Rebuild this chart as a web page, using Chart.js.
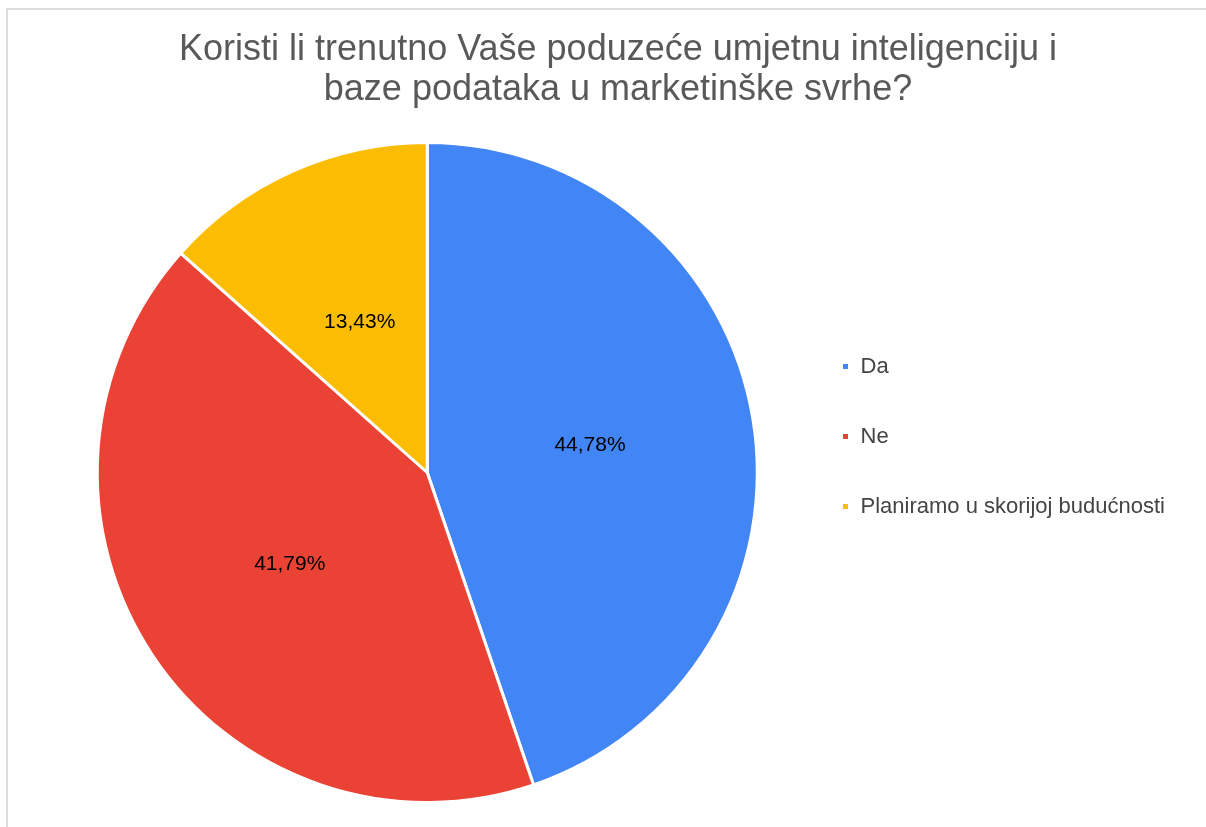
<!DOCTYPE html>
<html lang="hr">
<head>
    <meta charset="UTF-8">
    <title>Umjetna inteligencija u marketingu</title>
    <style>
        html, body { margin: 0; padding: 0; background: #fff; }
        #frame {
            position: absolute;
            left: 6px;
            top: 8px;
            width: 1300px;
            height: 900px;
            border-left: 2px solid #dcdcdc;
            border-top: 2px solid #dcdcdc;
        }
        #wrap {
            position: absolute;
            left: 0;
            top: 0;
            width: 1206px;
            height: 827px;
        }
    </style>
</head>
<body>
    <div id="frame"></div>
    <div id="wrap"><canvas id="pieChart"></canvas></div>

    <script src="https://cdn.jsdelivr.net/npm/chart.js@4/dist/chart.umd.min.js"></script>
    <script>

    const titleLines = ["Koristi li trenutno Vaše poduzeće umjetnu inteligenciju i", "baze podataka u marketinške svrhe?"];
    const categories = ["Da", "Ne", "Planiramo u skorijoj budućnosti"];
    const shares = [44.78, 41.79, 13.43];
    const sliceColors = ["#4285f4", "#ea4335", "#fbbc04"];

    const fontFamily = "'Liberation Sans', Arial, Helvetica, sans-serif";

    // percentages printed in the middle of each slice
    const sliceLabels = {
        id: "sliceLabels",
        afterDatasetsDraw(chart) {
            const ctx = chart.ctx;
            const meta = chart.getDatasetMeta(0);
            ctx.save();
            ctx.font = "21px " + fontFamily;
            ctx.fillStyle = "#000";
            ctx.textAlign = "center";
            ctx.textBaseline = "middle";
            meta.data.forEach((arc, i) => {
                const pos = arc.tooltipPosition();
                ctx.fillText(shares[i].toFixed(2).replace(".", ",") + "%", pos.x, pos.y);
            });
            ctx.restore();
        }
    };

    new Chart(document.getElementById("pieChart"), {
        type: "pie",
        data: {
            labels: categories,
            datasets: [{
                data: shares,
                backgroundColor: sliceColors,
                borderColor: "#fff",
                borderWidth: 3
            }]
        },
        options: {
            responsive: true,
            maintainAspectRatio: false,
            animation: false,
            layout: {
                padding: { left: 61, right: 31, top: 0, bottom: 23 }
            },
            plugins: {
                title: {
                    display: true,
                    text: titleLines,
                    color: "#595959",
                    font: { family: fontFamily, size: 36, weight: "normal", lineHeight: 40 / 36 },
                    padding: { top: 30, bottom: 31 }
                },
                legend: {
                    position: "right",
                    align: "center",
                    // empty title only pushes the items down a bit
                    title: {
                        display: true,
                        text: " ",
                        font: { size: 9, lineHeight: 1 },
                        padding: 30
                    },
                    labels: {
                        color: "#444",
                        font: { family: fontFamily, size: 22 },
                        boxWidth: 8,
                        boxHeight: 8,
                        padding: 48
                    }
                },
                tooltip: { enabled: false }
            }
        },
        plugins: [sliceLabels]
    });

    </script>
</body>
</html>
